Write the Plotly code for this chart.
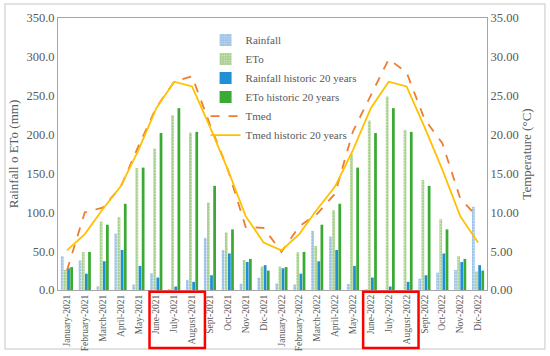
import plotly.graph_objects as go

months = ["January", "February", "March", "April", "May", "June", "July",
          "August", "Sept", "Oct", "Nov", "Dic"]
categories = [f"{m}-2021" for m in months] + [f"{m}-2022" for m in months]

rainfall = [43.5, 38, 5, 72.5, 7, 21.5, 0.5, 13, 67, 51.5, 8, 16,
            8.5, 7, 76, 68.7, 7.7, 1, 0, 0, 14.6, 22.3, 25.8, 107]
eto = [26, 49, 88, 94, 157, 182, 225, 202.5, 112.5, 74, 38.6, 30,
       30, 48.5, 56.6, 102.6, 175, 218, 249, 206, 141.6, 91, 43.8, 24]
rain_hist_month = [28, 21, 37, 51.5, 31, 16, 4.5, 10.5, 19, 47, 36, 32]
eto_hist_month = [29.5, 49, 84, 111, 157.5, 202, 234, 203.5, 134, 78, 40, 25]
rain_hist = rain_hist_month * 2
eto_hist = eto_hist_month * 2

tmed = [2.5, 10.0, 10.6, 13.2, 18.5, 23.5, 26.8, 27.5, 21.3, 15.5, 8.1, 8.0,
        4.9, 8.2, 9.8, 12.4, 20.4, 25.0, 29.7, 28.0, 22.0, 18.9, 11.8, 9.3]
tmed_hist_month = [5.1, 7.2, 10.4, 13.3, 18.0, 23.4, 26.8, 26.2, 21.0, 15.5, 9.5, 6.1]
tmed_hist = tmed_hist_month * 2

serif = "Liberation Serif"
grey = "#595959"

fig = go.Figure()
fig.add_trace(go.Bar(x=categories, y=rainfall, name="Rainfall",
                     marker=dict(color="#9DC3E6", line=dict(width=0),
                                 pattern=dict(shape=".", fgcolor="#ffffff", size=3, solidity=0.25))))
fig.add_trace(go.Bar(x=categories, y=eto, name="ETo",
                     marker=dict(color="#A9D18E", line=dict(width=0),
                                 pattern=dict(shape=".", fgcolor="#ffffff", size=3, solidity=0.25))))
fig.add_trace(go.Bar(x=categories, y=rain_hist, name="Rainfall historic 20 years",
                     marker=dict(color="#1F8FD6", line=dict(width=0))))
fig.add_trace(go.Bar(x=categories, y=eto_hist, name="ETo historic 20 years",
                     marker=dict(color="#3AAA35", line=dict(width=0))))
fig.add_trace(go.Scatter(x=categories, y=tmed, name="Tmed", yaxis="y2", mode="lines",
                         line=dict(color="#ED7D31", width=1.8, dash="dash")))
fig.add_trace(go.Scatter(x=categories, y=tmed_hist, name="Tmed historic 20 years", yaxis="y2",
                         mode="lines", line=dict(color="#FFC000", width=1.8)))

# red highlight boxes around summer months
for x0, x1 in [(4.62, 7.72), (16.57, 19.67)]:
    fig.add_shape(type="rect", xref="x", yref="paper", x0=x0, x1=x1, y0=-0.213, y1=-0.006,
                  line=dict(color="#FF0000", width=2.5))
# outer frame
fig.add_shape(type="rect", xref="paper", yref="paper", x0=-0.1235, x1=1.135, y0=-0.217, y1=1.0515,
              line=dict(color="#D9D9D9", width=1.5), layer="below")

fig.update_layout(
    width=550, height=356,
    margin=dict(l=58, r=63, t=18, b=66),
    paper_bgcolor="white", plot_bgcolor="white",
    barmode="group", bargap=0.3, bargroupgap=0.12,
    font=dict(family=serif, color=grey, size=12),
    showlegend=True,
    legend=dict(x=0.344, y=0.972, xanchor="left", yanchor="top", bgcolor="rgba(0,0,0,0)",
                font=dict(family=serif, size=11, color=grey), tracegroupgap=0,
                itemwidth=30, traceorder="normal"),
    xaxis=dict(type="category", tickangle=-90, tickfont=dict(size=9.5, family=serif, color=grey),
               showline=True, linecolor="#A6A6A6", linewidth=1, mirror=True, ticks="", showgrid=False,
               automargin=False),
    yaxis=dict(range=[0, 350], dtick=50, tickformat=".1f", showgrid=False, zeroline=False,
               showline=True, linecolor="#A6A6A6", linewidth=1, automargin=False,
               title=dict(text="Rainfall o ETo (mm)", font=dict(size=13, family=serif, color=grey), standoff=4),
               tickfont=dict(size=12.5, family=serif, color=grey)),
    yaxis2=dict(range=[0, 35], dtick=5, tickformat=".2f", overlaying="y", side="right", showgrid=False,
                zeroline=False, showline=True, linecolor="#A6A6A6", linewidth=1, automargin=False,
                title=dict(text="Temperature (°C)", font=dict(size=13, family=serif, color=grey), standoff=4),
                tickfont=dict(size=12.5, family=serif, color=grey)),
)

fig.write_html("out.html", config={"displayModeBar": False},
               post_script="document.body.style.margin='0';")
